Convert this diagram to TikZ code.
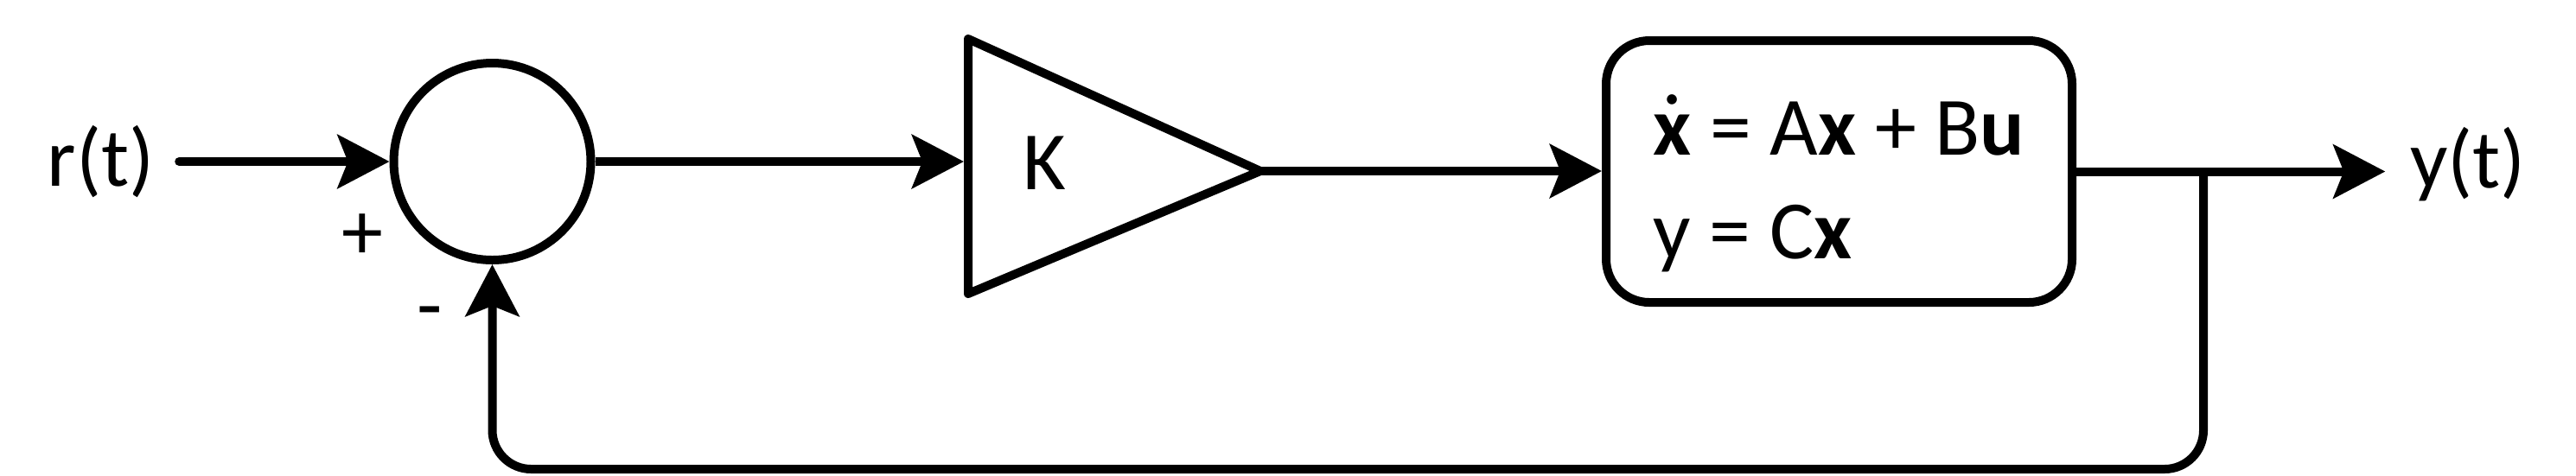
\documentclass[tikz,border=0pt]{standalone}
\usepackage{fontspec}
\setmainfont{Carlito}
\usetikzlibrary{
  positioning,
  arrows.meta
}
\tikzset{
  >=Stealth,
  flowarrow/.style={-{Stealth[length=6mm,width=6.2mm,inset=1.2mm]},line width=1mm},
  wire/.style={line width=1mm},
  sumpoint/.style={circle,draw,line width=1mm,minimum size=22.8mm,inner sep=0pt},
  plant/.style={rectangle,draw,rounded corners=5mm,line width=1mm,align=left,minimum width=53.9mm,minimum height=30.3mm,inner sep=0pt},
  gainbox/.style={draw,line width=1mm,line join=round},
  signal/.style={inner sep=0.8em}
}
\newcommand{\xdot}{\ooalign{\textbf{x}\cr\hfil\raisebox{0.61em}{.}\hfil\cr}}

\begin{document}
\begin{tikzpicture}[node distance=2cm, on grid, font=\fontsize{27.3}{34.4}\selectfont]
    \useasboundingbox (0,0) rectangle (29.8,-5.5);
    \node[sumpoint] (sum) at (5.695,-1.87) {};
    \node[signal,left=4.53cm of sum] (rin) {r(t)};
    \node[below left=0.87cm and 1.505cm of sum] (plus) {+};
    \node[below left=1.83cm and 0.725cm of sum] (minus) {-};
    \node[right=6.385cm of sum,yshift=-0.2mm] (gain) {K};
    \coordinate (gainin) at (11.15,-1.87);
    \coordinate (gainout) at (14.58,-1.98);
    \node[plant,right=15.58cm of sum,yshift=-1.15mm] (plant)
      {\rule{0pt}{10.7mm}\xdot{} = A\textbf{x} + B\textbf{u}\\ y = C\textbf{x}\rule[-2.5mm]{0pt}{2.5mm}};
    \node[signal,right=7.275cm of plant,yshift=0.8mm] (yout) {y(t)};
    \coordinate[right=1.47cm of plant.east] (branch);

    % gain block
    \draw[gainbox] (11.2,-0.45) -- (gainout) -- (11.2,-3.40) -- cycle;

    \draw[flowarrow,line cap=round] (rin) -- (sum);
    \draw[flowarrow] (sum) -- (gainin);
    \draw[flowarrow] (gainout) -- (plant.west |- gainout);
    \draw[flowarrow] (plant.east) -- (plant.east -| yout.west);
    \draw[flowarrow,rounded corners=4.5mm] (branch) |- (sum |- 0,-5.43) -- (sum.south);
\end{tikzpicture}
\end{document}
